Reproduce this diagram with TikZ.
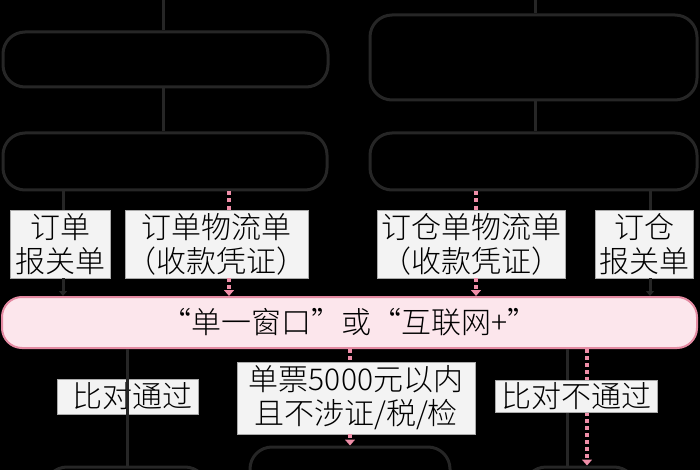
\documentclass[tikz,border=0pt]{standalone}
\usepackage{fontspec}
\setmainfont{Noto Sans CJK SC}[UprightFont=* Light]
\usetikzlibrary{arrows.meta}
\definecolor{boxline}{HTML}{262626}
\definecolor{labfill}{HTML}{F3F3F3}
\definecolor{barfill}{HTML}{FCE6EC}
\definecolor{barline}{HTML}{E48AA2}
\definecolor{pinkarr}{HTML}{EF8EA8}
\begin{document}
\begin{tikzpicture}[x=1pt,y=-1pt,
  flowbox/.style={draw=boxline, line width=3pt, fill=black, rounded corners=22pt, inner sep=0pt},
  lab/.style={fill=labfill, draw=labfill!70!black, line width=0.6pt, inner sep=0pt, align=center,
    font=\fontsize{30}{34}\selectfont, text=black},
  graycon/.style={draw=boxline, line width=3pt, -{Triangle[width=8pt,length=5pt]}},
  grayline/.style={draw=boxline, line width=3pt},
  pinkcon/.style={draw=pinkarr, line width=4pt, dash pattern=on 4pt off 3pt, -{Triangle[width=10pt,length=6pt]}},
  pinkline/.style={draw=pinkarr, line width=4pt, dash pattern=on 4pt off 3pt}]
\useasboundingbox (0,0) rectangle (700,470);
\fill[black] (0,0) rectangle (700,470);
\begin{scope}
\clip (0,0) rectangle (700,470);
% boxes
\node[flowbox, minimum width=325pt, minimum height=55pt] (b1L) at (165.5,59.5) {};
\node[flowbox, minimum width=324pt, minimum height=57pt] (b2L) at (165,161.5) {};
\node[flowbox, minimum width=327pt, minimum height=85pt] (b1R) at (533.5,57.5) {};
\node[flowbox, minimum width=327pt, minimum height=57pt] (b2R) at (533.5,161.5) {};
\node[flowbox, minimum width=162pt, minimum height=46pt] (b3L) at (126,490) {};
\node[flowbox, minimum width=200pt, minimum height=66pt] (b3M) at (350,480) {};
\node[flowbox, minimum width=112pt, minimum height=46pt] (b3R) at (580,490) {};
% bar
\node[draw=barline, fill=barfill, line width=2pt, rounded corners=20pt, minimum width=695pt, minimum height=51pt,
  inner sep=0pt, font=\fontsize{30}{34}\selectfont] (bar) at (349.5,322.5) {“单一窗口”或“互联网+”};
% column coordinates
\coordinate (tL) at (163,0);
\coordinate (tR) at (535,0);
\coordinate (cA) at (63,0);
\coordinate (cB) at (229,0);
\coordinate (cC) at (476,0);
\coordinate (cD) at (650,0);
\coordinate (cE) at (127,0);
\coordinate (cF) at (350,0);
\coordinate (cG) at (567,0);
\coordinate (cH) at (587,0);
% labels
\node[lab, minimum width=100pt, minimum height=68pt] (l1) at (60,244) {订单\\报关单};
\node[lab, minimum width=183pt, minimum height=68pt] (l2) at (216.5,244) {订单物流单\\（收款凭证）};
\node[lab, minimum width=188pt, minimum height=68pt] (l3) at (471,244) {订仓单物流单\\（收款凭证）};
\node[lab, minimum width=98pt, minimum height=68pt] (l4) at (644,244) {订仓\\报关单};
\node[lab, minimum width=238pt, minimum height=72pt] (l6) at (356,398) {单票5000元以内\\且不涉证/税/检};
% top connectors
\draw[grayline] (tL) -- (tL |- b1L.north);
\draw[grayline] (tR) -- (tR |- b1R.north);
\draw[grayline] (tL |- b1L.south) -- (tL |- b2L.north);
\draw[grayline] (tR |- b1R.south) -- (tR |- b2R.north);
% to labels and bar
\draw[grayline] (cA |- b2L.south) -- (cA |- l1.north);
\draw[graycon] (cA |- l1.south) -- (cA |- bar.north);
\draw[pinkline] (cB |- b2L.south) -- (cB |- l2.north);
\draw[pinkcon] (cB |- l2.south) -- (cB |- bar.north);
\draw[pinkline] (cC |- b2R.south) -- (cC |- l3.north);
\draw[pinkcon] (cC |- l3.south) -- (cC |- bar.north);
\draw[grayline] (cD |- b2R.south) -- (cD |- l4.north);
\draw[graycon] (cD |- l4.south) -- (cD |- bar.north);
% below bar
\draw[pinkline] (cF |- bar.south) -- (cF |- l6.north);
\draw[pinkcon] (cF |- l6.south) -- (cF |- b3M.north);
\draw[grayline] (cG |- bar.south) -- (cG |- b3R.north);
\draw[pinkcon] (cH |- bar.south) -- (cH |- b3R.north);
\node[lab, minimum width=162pt, minimum height=32pt] (l7) at (576,396) {比对不通过};
\node[lab, minimum width=141pt, minimum height=35pt] (l5) at (127.5,396.5) {\hspace*{10pt}比对通过};
\draw[grayline] (cE |- bar.south) -- (cE |- b3L.north);
\end{scope}
\end{tikzpicture}
\end{document}
